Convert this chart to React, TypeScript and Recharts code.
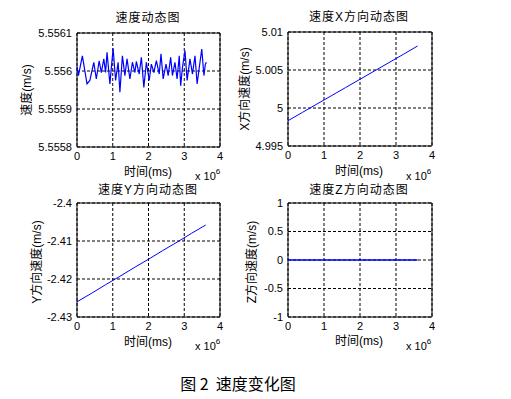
import React from 'react';
import { LineChart, Line, XAxis, YAxis, CartesianGrid, ReferenceArea } from 'recharts';

// time in units of 10^6 ms
const speedTime = [0.00, 0.04, 0.15, 0.28, 0.36, 0.47, 0.54, 0.62, 0.68, 0.75, 0.80, 0.84, 0.92, 1.01, 1.08, 1.15, 1.20, 1.27, 1.34, 1.40, 1.48, 1.55, 1.62, 1.66, 1.74, 1.80, 1.87, 1.94, 2.02, 2.08, 2.15, 2.22, 2.30, 2.35, 2.41, 2.49, 2.55, 2.62, 2.67, 2.74, 2.80, 2.86, 2.90, 2.95, 3.02, 3.08, 3.16, 3.23, 3.30, 3.36, 3.44, 3.49, 3.55, 3.59, 3.62];
const speedValues = [5.55601, 5.555988, 5.55604, 5.555966, 5.555975, 5.556023, 5.555979, 5.556027, 5.555996, 5.556032, 5.555996, 5.556049, 5.555966, 5.55606, 5.555975, 5.556023, 5.555944, 5.55604, 5.555988, 5.556032, 5.555979, 5.556023, 5.555996, 5.556025, 5.555992, 5.556036, 5.555957, 5.556023, 5.555975, 5.556018, 5.555996, 5.556027, 5.555992, 5.556045, 5.555979, 5.556018, 5.555988, 5.556036, 5.555988, 5.556023, 5.555979, 5.55604, 5.555961, 5.55601, 5.556054, 5.555975, 5.556032, 5.555992, 5.55604, 5.555966, 5.556023, 5.556058, 5.555988, 5.556018, 5.556023];

const lineTime = [0, 0.4, 0.8, 1.2, 1.6, 2.0, 2.4, 2.8, 3.2, 3.6];
const xSpeed = [4.99833, 4.99942, 5.00051, 5.0016, 5.00269, 5.00378, 5.00487, 5.00596, 5.00705, 5.00816];
const ySpeed = [-2.426, -2.4238, -2.4215, -2.4193, -2.417, -2.4148, -2.4125, -2.4103, -2.408, -2.4058];
const zSpeed = [0, 0, 0, 0, 0, 0, 0, 0, 0, 0];

const timeTicks = [0, 1, 2, 3, 4];
const speedTicks = [5.5558, 5.5559, 5.556, 5.5561];
const xTicks = [4.995, 5, 5.005, 5.01];
const yTicks = [-2.43, -2.42, -2.41, -2.4];
const zTicks = [-1, -0.5, 0, 0.5, 1];

const titles = ['速度动态图', '速度X方向动态图', '速度Y方向动态图', '速度Z方向动态图'];
const yLabels = ['速度(m/s)', 'X方向速度(m/s)', 'Y方向速度(m/s)', 'Z方向速度(m/s)'];
const xLabel = '时间(ms)';
const caption = '图 2  速度变化图';

const build = (t: number[], v: number[]) => t.map((x, i) => ({ t: x, v: v[i] }));

const NUM_FONT = '"Liberation Sans", Arial, sans-serif';
const CJK_FONT = '"Liberation Sans", "Noto Sans CJK SC", sans-serif';

const fmt = (v: number) => String(Number(v.toFixed(6)));

type PanelProps = {
  plotLeft: number; plotTop: number; plotW: number; plotH: number;
  data: { t: number; v: number }[]; ticks: number[]; strokeWidth?: number;
};

const YW = 45;
function Panel({ plotLeft, plotTop, plotW, plotH, data, ticks, strokeWidth = 1 }: PanelProps) {
  const yMin = ticks[0];
  const yMax = ticks[ticks.length - 1];
  return (
    <div style={{ position: 'absolute', left: plotLeft - YW, top: plotTop - 5 }}>
      <LineChart width={YW + plotW + 5} height={5 + plotH + 20 + 5} data={data}
        margin={{ top: 5, right: 5, left: 0, bottom: 5 }}>
        <CartesianGrid stroke="#000" strokeDasharray="3 2" strokeWidth={1} />
        <XAxis dataKey="t" type="number" domain={[0, 4]} ticks={timeTicks} height={20}
          axisLine={false} tickLine={false} tickSize={3} tickMargin={2} interval={0}
          tickFormatter={fmt} tick={{ fontSize: 11, fill: '#000', fontFamily: NUM_FONT }} />
        <YAxis dataKey="v" type="number" domain={[yMin, yMax]} ticks={ticks} width={YW}
          axisLine={false} tickLine={false} tickSize={3} tickMargin={2} interval={0}
          allowDataOverflow tickFormatter={fmt} tick={{ fontSize: 11, fill: '#000', fontFamily: NUM_FONT }} />
        <ReferenceArea x1={0} x2={4} y1={yMin} y2={yMax} fill="none" fillOpacity={0}
          stroke="#000" strokeWidth={1} ifOverflow="visible" />
        <Line dataKey="v" stroke="#0000ff" strokeWidth={strokeWidth} dot={false}
          isAnimationActive={false} type="linear" />
      </LineChart>
    </div>
  );
}

const centered = (x: number, y: number, rot = 0): React.CSSProperties => ({
  position: 'absolute', left: x, top: y, whiteSpace: 'nowrap',
  transform: `translate(-50%, -50%)${rot ? ` rotate(${rot}deg)` : ''}`,
  lineHeight: 1,
});

function Texts({ i, tx, ty, lx, ly, ylx, yly, mx, my }: { i: number; tx: number; ty: number; lx: number; ly: number; ylx: number; yly: number; mx: number; my: number }) {
  return (
    <>
      <div style={{ ...centered(tx, ty), fontSize: 12, letterSpacing: 1, fontFamily: CJK_FONT }}>{titles[i]}</div>
      <div style={{ ...centered(lx, ly), fontSize: 12, fontFamily: CJK_FONT }}>{xLabel}</div>
      <div style={{ ...centered(ylx, yly, -90), fontSize: 12, fontFamily: CJK_FONT }}>{yLabels[i]}</div>
      <div style={{ position: 'absolute', left: mx, top: my - 6, fontSize: 11, fontFamily: NUM_FONT, lineHeight: 1, whiteSpace: 'nowrap' }}>
        x 10<span style={{ position: 'relative', top: -6, fontSize: 8 }}>6</span>
      </div>
    </>
  );
}

export default function App() {
  return (
    <div style={{ position: 'absolute', left: 0, top: 0, width: 511, height: 399, background: '#fff', color: '#000', overflow: 'hidden' }}>
      <Panel plotLeft={77} plotTop={33} plotW={143} plotH={114} data={build(speedTime, speedValues)} ticks={speedTicks} strokeWidth={1.2} />
      <Panel plotLeft={288} plotTop={32} plotW={144} plotH={114} data={build(lineTime, xSpeed)} ticks={xTicks} />
      <Panel plotLeft={77} plotTop={203} plotW={143} plotH={114} data={build(lineTime, ySpeed)} ticks={yTicks} />
      <Panel plotLeft={288} plotTop={203} plotW={144} plotH={114} data={build(lineTime, zSpeed)} ticks={zTicks} strokeWidth={1.5} />

      <Texts i={0} tx={148} ty={18} lx={148} ly={172} ylx={27} yly={90} mx={195} my={177} />
      <Texts i={1} tx={359} ty={17} lx={359} ly={171} ylx={245} yly={89} mx={406} my={177} />
      <Texts i={2} tx={148} ty={190} lx={148} ly={342} ylx={37} yly={262} mx={195} my={347} />
      <Texts i={3} tx={359} ty={190} lx={359} ly={341} ylx={252} yly={262} mx={406} my={347} />

      <div style={{ ...centered(238, 383), fontSize: 16, fontFamily: '"Noto Sans CJK SC", sans-serif', whiteSpace: 'pre' }}>{caption}</div>
    </div>
  );
}
